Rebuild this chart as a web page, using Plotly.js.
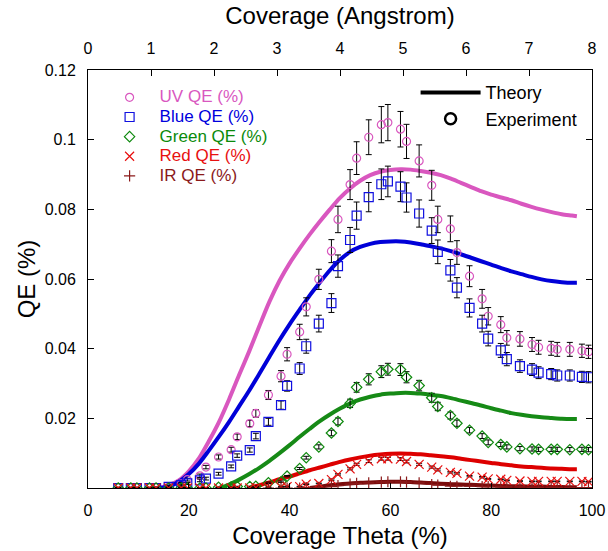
<!DOCTYPE html>
<html>
<head>
<meta charset="utf-8">
<script src="https://cdn.plot.ly/plotly-3.0.1.min.js"></script>
<style>html,body{margin:0;padding:0;background:#fff;}#chart{width:608px;height:551px;}</style>
</head>
<body>
<div id="chart"></div>
<script>
// ---- Experimental data (coverage theta, %) ----
const thetaExp = [6.0, 8.5, 9.7, 12.2, 13.5, 16.0, 18.5, 19.7, 22.2, 23.4,
  25.9, 28.4, 29.6, 32.1, 33.3, 35.8, 38.3, 39.5, 42.0, 43.3,
  45.8, 48.3, 49.6, 52.0, 53.3, 55.7, 58.2, 59.5, 62.0, 63.2,
  65.7, 68.2, 69.4, 71.9, 73.2, 75.7, 78.2, 79.4, 81.9, 83.1,
  85.7, 88.1, 89.4, 91.9, 93.1, 95.6, 98.0, 99.3];

const uvQE = [0, 0, 0, 0, 0.0001, 0.0003, 0.0012, 0.0024, 0.0035, 0.0060,
  0.0089, 0.0110, 0.0147, 0.0185, 0.0214, 0.0267, 0.0321, 0.0384, 0.0448, 0.0520,
  0.0599, 0.0680, 0.0771, 0.0871, 0.0947, 0.1007, 0.1043, 0.1049, 0.1030, 0.0995,
  0.0939, 0.0869, 0.0771, 0.0744, 0.0676, 0.0608, 0.0543, 0.0493, 0.0469, 0.0431,
  0.0428, 0.0412, 0.0404, 0.0401, 0.0398, 0.0398, 0.0394, 0.0391];
const uvErr = [0.0002, 0.0002, 0.0002, 0.0002, 0.0002, 0.0003, 0.0004, 0.0004, 0.0005, 0.0005,
  0.0006, 0.0007, 0.0008, 0.0009, 0.0011, 0.0013, 0.0016, 0.0019, 0.0022, 0.0026,
  0.0029, 0.0033, 0.0038, 0.0043, 0.0047, 0.0050, 0.0052, 0.0052, 0.0051, 0.0049,
  0.0046, 0.0043, 0.0038, 0.0037, 0.0034, 0.0030, 0.0027, 0.0025, 0.0023, 0.0021,
  0.0021, 0.0020, 0.0020, 0.0020, 0.0020, 0.0020, 0.0019, 0.0019];

const blueQE = [0, 0, 0, 0, 0, 0.0003, 0.0008, 0.0013, 0.0022, 0.0027,
  0.0041, 0.0062, 0.0093, 0.0109, 0.0149, 0.0190, 0.0238, 0.0293, 0.0343, 0.0407,
  0.0472, 0.0531, 0.0637, 0.0712, 0.0782, 0.0835, 0.0872, 0.0880, 0.0865, 0.0834,
  0.0788, 0.0739, 0.0678, 0.0625, 0.0575, 0.0517, 0.0472, 0.0429, 0.0395, 0.0370,
  0.0350, 0.0340, 0.0331, 0.0327, 0.0323, 0.0323, 0.0319, 0.0318];
const blueErr = [0.0002, 0.0002, 0.0002, 0.0002, 0.0002, 0.0002, 0.0003, 0.0003, 0.0004, 0.0004,
  0.0004, 0.0004, 0.0005, 0.0006, 0.0008, 0.0010, 0.0012, 0.0015, 0.0017, 0.0020,
  0.0024, 0.0027, 0.0032, 0.0036, 0.0039, 0.0042, 0.0044, 0.0044, 0.0043, 0.0042,
  0.0039, 0.0037, 0.0034, 0.0031, 0.0029, 0.0026, 0.0024, 0.0021, 0.0020, 0.0019,
  0.0018, 0.0017, 0.0017, 0.0016, 0.0016, 0.0016, 0.0016, 0.0016];

const greenQE = [0, 0, 0, 0, 0, 0, 0, 0, 0, 0,
  0.0002, 0.0003, 0.0004, 0.0004, 0.0005, 0.0015, 0.0018, 0.0034, 0.0056, 0.0087,
  0.0118, 0.0158, 0.0191, 0.0243, 0.0289, 0.0312, 0.0334, 0.0341, 0.0340, 0.0318,
  0.0294, 0.0259, 0.0234, 0.0208, 0.0186, 0.0166, 0.0149, 0.0131, 0.0125, 0.0118,
  0.0113, 0.0112, 0.0111, 0.0111, 0.0111, 0.0110, 0.0111, 0.0110];
const greenErr = [0.0001, 0.0001, 0.0001, 0.0001, 0.0001, 0.0001, 0.0001, 0.0001, 0.0001, 0.0001,
  0.0001, 0.0001, 0.0001, 0.0001, 0.0001, 0.0002, 0.0002, 0.0002, 0.0003, 0.0004,
  0.0006, 0.0008, 0.0010, 0.0012, 0.0014, 0.0016, 0.0017, 0.0017, 0.0017, 0.0016,
  0.0015, 0.0013, 0.0012, 0.0010, 0.0009, 0.0008, 0.0007, 0.0007, 0.0006, 0.0006,
  0.0006, 0.0006, 0.0006, 0.0006, 0.0006, 0.0006, 0.0006, 0.0006];

const redQE = [0, 0, 0, 0, 0, 0, 0, 0, 0, 0,
  0, 0, 0, 0, 0.0001, 0.0002, 0.0003, 0.0004, 0.0004, 0.0011,
  0.0013, 0.0024, 0.0039, 0.0055, 0.0068, 0.0077, 0.0084, 0.0084, 0.0083, 0.0076,
  0.0068, 0.0060, 0.0052, 0.0045, 0.0042, 0.0034, 0.0031, 0.0026, 0.0025, 0.0022,
  0.0020, 0.0019, 0.0019, 0.0019, 0.0019, 0.0019, 0.0019, 0.0018];
const redErr = [0.0001, 0.0001, 0.0001, 0.0001, 0.0001, 0.0001, 0.0001, 0.0001, 0.0001, 0.0001,
  0.0001, 0.0001, 0.0001, 0.0001, 0.0001, 0.0001, 0.0001, 0.0001, 0.0001, 0.0001,
  0.0001, 0.0002, 0.0002, 0.0003, 0.0003, 0.0004, 0.0004, 0.0004, 0.0004, 0.0004,
  0.0003, 0.0003, 0.0003, 0.0002, 0.0002, 0.0002, 0.0002, 0.0001, 0.0001, 0.0001,
  0.0001, 0.0001, 0.0001, 0.0001, 0.0001, 0.0001, 0.0001, 0.0001];

const irQE = [null, null, null, null, null, null, null, null, null, null,
  null, null, null, null, null, 0, 0, 0, 0, 0.0001,
  0.0002, 0.0004, 0.0007, 0.0011, 0.0013, 0.0015, 0.0017, 0.0018, 0.0018, 0.0017,
  0.0015, 0.0010, 0.0008, 0.0005, 0.0005, 0.0005, 0.0004, 0.0004, 0.0003, 0.0003,
  0.0003, 0.0002, 0.0002, 0.0002, 0.0002, 0.0002, 0.0001, 0.0001];

// ---- Theory curves ----
const thetaTh = [14, 16, 18, 20, 22, 24, 26, 28, 30, 32, 34, 36, 38, 40, 42, 44, 46, 48, 50, 52,
  54, 56, 58, 60, 62, 64, 66, 68, 70, 72, 74, 76, 78, 80, 82, 84, 86, 88, 90, 92, 94, 96, 97];
const uvTh = [0, 0.0008, 0.0022, 0.0048, 0.0085, 0.0135, 0.0190, 0.0255, 0.0325, 0.0393,
  0.0465, 0.0535, 0.0595, 0.0645, 0.0688, 0.0728, 0.0765, 0.0800, 0.0833, 0.0860,
  0.0882, 0.0898, 0.0908, 0.0913, 0.0915, 0.0914, 0.0910, 0.0905, 0.0898, 0.0888,
  0.0876, 0.0864, 0.0852, 0.0842, 0.0834, 0.0826, 0.0816, 0.0807, 0.0799, 0.0792,
  0.0786, 0.0782, 0.0780];
const blueTh = [0, 0.0004, 0.0018, 0.0040, 0.0070, 0.0108, 0.0148, 0.0190, 0.0235, 0.0280,
  0.0328, 0.0377, 0.0425, 0.0470, 0.0512, 0.0553, 0.0590, 0.0625, 0.0655, 0.0678,
  0.0692, 0.0701, 0.0706, 0.0708, 0.0708, 0.0705, 0.0700, 0.0694, 0.0688, 0.0680,
  0.0671, 0.0661, 0.0651, 0.0641, 0.0631, 0.0622, 0.0614, 0.0606, 0.0599, 0.0594,
  0.0591, 0.0589, 0.0589];
const greenTh = [null, null, null, null, null, null, 0, 0.0010, 0.0024, 0.0040,
  0.0058, 0.0078, 0.0100, 0.0123, 0.0147, 0.0170, 0.0192, 0.0211, 0.0228, 0.0243,
  0.0254, 0.0262, 0.0268, 0.0271, 0.0273, 0.0273, 0.0271, 0.0268, 0.0264, 0.0258,
  0.0251, 0.0244, 0.0237, 0.0229, 0.0222, 0.0215, 0.0210, 0.0206, 0.0203, 0.0201,
  0.0199, 0.0198, 0.0198];
const redTh = [null, null, null, null, null, null, null, null, null, 0,
  0.0008, 0.0016, 0.0025, 0.0033, 0.0042, 0.0051, 0.0059, 0.0067, 0.0075, 0.0082,
  0.0088, 0.0093, 0.0096, 0.0098, 0.0099, 0.0098, 0.0097, 0.0094, 0.0091, 0.0088,
  0.0084, 0.0080, 0.0076, 0.0072, 0.0068, 0.0065, 0.0062, 0.0060, 0.0058, 0.0056,
  0.0055, 0.0054, 0.0054];
const irTh = [null, null, null, null, null, null, null, null, null, null,
  null, null, null, null, null, 0, 0.0004, 0.0008, 0.0011, 0.0013,
  0.0015, 0.0016, 0.0017, 0.0018, 0.0018, 0.0017, 0.0016, 0.0014, 0.0012, 0.0011,
  0.0010, 0.0009, 0.0008, 0.0007, 0.0006, 0.0005, 0.0005, 0.0004, 0.0004, 0.0003,
  0.0003, 0.0002, 0.0002];

// ---- Axis ticks & labels ----
const xTicks = [0, 20, 40, 60, 80, 100];
const yTicks = [0.02, 0.04, 0.06, 0.08, 0.1, 0.12];
const angRange = [0, 8];
const seriesNames = ['UV QE (%)', 'Blue QE (%)', 'Green QE (%)', 'Red QE (%)', 'IR QE (%)'];
const lineColors = ['#d957bf', '#0000d8', '#168a16', '#dd0000', '#7a0c0c'];
const markColors = ['#d957bf', '#1010e0', '#0f8a0f', '#e81010', '#8b1a1a'];
const textColors = ['#d957bf', '#0000dd', '#0a8a0a', '#e81010', '#8b1a1a'];

const theoryY = [uvTh, blueTh, greenTh, redTh, irTh];
const expY = [uvQE, blueQE, greenQE, redQE, irQE];
const expErr = [uvErr, blueErr, greenErr, redErr, null];
const symbols = ['circle-open', 'square-open', 'diamond-open', 'x-thin-open', 'cross-thin-open'];
const sizes = [8, 9, 8, 9, 8];

const traces = [];
for (let i = 0; i < 5; i++) {
  traces.push({
    x: thetaTh, y: theoryY[i], mode: 'lines', type: 'scatter',
    line: {color: lineColors[i], width: 4, shape: 'spline', smoothing: 0.8},
    showlegend: false, hoverinfo: 'skip', connectgaps: false
  });
}
for (let i = 0; i < 5; i++) {
  const t = {
    x: thetaExp, y: expY[i], mode: 'markers', type: 'scatter',
    name: '<span style="color:' + textColors[i] + ';font-size:17px">' + seriesNames[i] + '</span>',
    marker: {symbol: symbols[i], size: sizes[i], color: markColors[i],
             line: {color: markColors[i], width: 1.2}},
    legend: 'legend'
  };
  if (expErr[i]) {
    t.error_y = {type: 'data', array: expErr[i], visible: true, color: '#000', thickness: 1, width: 3};
  }
  traces.push(t);
}
// legend 2 entries
traces.push({x: [null], y: [null], mode: 'lines', name: 'Theory',
  line: {color: '#000', width: 4}, legend: 'legend2'});
traces.push({x: [null], y: [null], mode: 'markers', name: 'Experiment',
  marker: {symbol: 'circle-open', size: 11, color: '#000', line: {color: '#000', width: 2.5}},
  legend: 'legend2'});
// trace tying the top axis
traces.push({x: angRange, y: [null, null], xaxis: 'x2', yaxis: 'y', mode: 'markers',
  showlegend: false, hoverinfo: 'skip'});

const font = 'Arial, "Liberation Sans", sans-serif';
const layout = {
  width: 608, height: 551,
  margin: {l: 88, r: 16, t: 70, b: 63},
  paper_bgcolor: '#fff', plot_bgcolor: '#fff',
  font: {family: font, color: '#000', size: 16},
  showlegend: true,
  xaxis: {
    range: [0, 100], tickvals: xTicks, ticks: 'inside', ticklen: 5, tickcolor: '#000',
    showline: true, mirror: true, linecolor: '#000', linewidth: 1,
    showgrid: false, zeroline: false, tickfont: {size: 16, family: font},
    ticklabelstandoff: 8,
    title: {text: 'Coverage Theta (%)', font: {size: 24, family: font}, standoff: 8}
  },
  xaxis2: {
    overlaying: 'x', side: 'top', range: angRange, tick0: 0, dtick: 1,
    ticks: 'inside', ticklen: 6, tickcolor: '#000', showline: false,
    showgrid: false, zeroline: false, tickfont: {size: 16, family: font},
    ticklabelstandoff: 12,
    title: {text: 'Coverage (Angstrom)', font: {size: 24, family: font}, standoff: 8}
  },
  yaxis: {
    range: [0, 0.12], tickvals: yTicks, ticks: 'inside', ticklen: 6, tickcolor: '#000',
    showline: true, mirror: 'ticks', linecolor: '#000', linewidth: 1,
    showgrid: false, zeroline: false, tickfont: {size: 16, family: font},
    ticklabelstandoff: 8,
    title: {text: 'QE (%)', font: {size: 24, family: font}, standoff: 2}
  },
  legend: {
    x: 0.023, y: 0.97, xanchor: 'left', yanchor: 'top', bgcolor: 'rgba(0,0,0,0)',
    borderwidth: 0, font: {size: 12.8, family: font}, itemwidth: 50, tracegroupgap: 0
  },
  legend2: {
    x: 0.65, y: 0.99, xanchor: 'left', yanchor: 'top', bgcolor: 'rgba(0,0,0,0)',
    borderwidth: 0, font: {size: 18, family: font}, itemwidth: 60
  }
};

Plotly.newPlot('chart', traces, layout, {staticPlot: true, displayModeBar: false});
</script>
</body>
</html>
